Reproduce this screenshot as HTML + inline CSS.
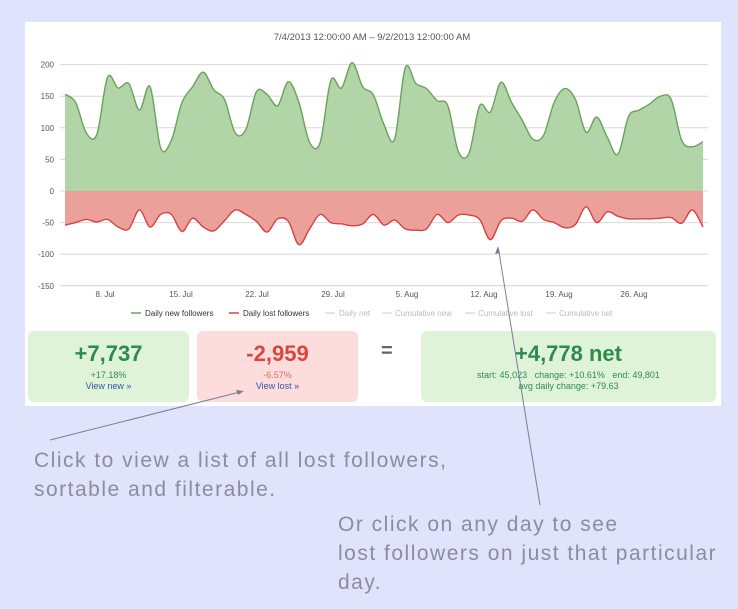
<!DOCTYPE html>
<html><head><meta charset="utf-8"><style>
body{margin:0;width:738px;height:609px;background:#dfe3fb;font-family:"Liberation Sans",sans-serif;position:relative;overflow:hidden}
.panel{position:absolute;left:25px;top:22px;width:696px;height:384px;background:#fff}
.box{position:absolute;top:331px;height:71px;border-radius:6px;text-align:center}
.big{font-size:22px;font-weight:bold;margin-top:10px;line-height:26px}
.sm{font-size:9px;line-height:11px}
.note{position:absolute;color:#8c8c9c;font-size:21px;line-height:29px;letter-spacing:1.5px;white-space:nowrap}
</style></head><body>
<div class="panel"></div>
<svg width="738" height="609" style="position:absolute;left:0;top:0">
<text x="372" y="40" font-size="9.5" fill="#555" text-anchor="middle" font-family="Liberation Sans">7/4/2013 12:00:00 AM – 9/2/2013 12:00:00 AM</text>
<g id="grid" stroke="#d8d8d8" stroke-width="1"></g>
<g id="ylab" font-size="8" fill="#555" text-anchor="end" font-family="Liberation Sans"></g>
<path id="gf" fill="#b1d5a6"/><path id="rf" fill="#eba09a"/>
<path id="gl" fill="none" stroke="#6aa25a" stroke-width="1.4"/><path id="rl" fill="none" stroke="#d94040" stroke-width="1.4"/>
<g font-size="8" fill="#555" text-anchor="middle" font-family="Liberation Sans">
<text x="105" y="297">8. Jul</text><text x="181" y="297">15. Jul</text><text x="257" y="297">22. Jul</text><text x="333" y="297">29. Jul</text><text x="407" y="297">5. Aug</text><text x="484" y="297">12. Aug</text><text x="559" y="297">19. Aug</text><text x="634" y="297">26. Aug</text></g>
<g font-size="8" font-family="Liberation Sans">
<line x1="131" y1="313" x2="141" y2="313" stroke="#6aa25a" stroke-width="1.5"/><text x="145" y="316" fill="#333">Daily new followers</text>
<line x1="229" y1="313" x2="239" y2="313" stroke="#d94040" stroke-width="1.5"/><text x="243" y="316" fill="#333">Daily lost followers</text>
<line x1="325" y1="313" x2="335" y2="313" stroke="#ccc"/><text x="339" y="316" fill="#bbb">Daily net</text>
<line x1="382" y1="313" x2="392" y2="313" stroke="#ccc"/><text x="395" y="316" fill="#bbb">Cumulative new</text>
<line x1="465" y1="313" x2="475" y2="313" stroke="#ccc"/><text x="478" y="316" fill="#bbb">Cumulative lost</text>
<line x1="546" y1="313" x2="556" y2="313" stroke="#ccc"/><text x="559" y="316" fill="#bbb">Cumulative net</text></g>
</svg>
<div class="box" style="left:28px;width:161px;background:#dff3d8"><div class="big" style="color:#2e8b4e">+7,737</div><div class="sm" style="color:#2e8b4e;margin-top:3px">+17.18%</div><div class="sm" style="color:#3355aa">View new »</div></div>
<div class="box" style="left:197px;width:161px;background:#fddcdc"><div class="big" style="color:#d9463e">-2,959</div><div class="sm" style="color:#d9706a;margin-top:3px">-6.57%</div><div class="sm" style="color:#3355aa">View lost »</div></div>
<div style="position:absolute;left:381px;top:340px;font-size:20px;color:#666;font-weight:bold">=</div>
<div class="box" style="left:421px;width:295px;background:#dff3d8"><div class="big" style="color:#2e8b4e">+4,778 net</div><div class="sm" style="color:#2e8b4e;margin-top:3px">start: 45,023 &nbsp; change: +10.61% &nbsp; end: 49,801</div><div class="sm" style="color:#2e8b4e">avg daily change: +79.63</div></div>
<svg width="738" height="609" style="position:absolute;left:0;top:0">
<line x1="50" y1="440" x2="240" y2="392" stroke="#7a7f95" stroke-width="1"/><path d="M244,391 l-8,-1 l2,5z" fill="#7a7f95"/>
<line x1="540" y1="505" x2="499" y2="252" stroke="#7a7f95" stroke-width="1"/><path d="M498,246 l-3,8 l5,-1z" fill="#7a7f95"/>
</svg>
<div class="note" style="left:34px;top:446px">Click to view a list of all lost followers,<br>sortable and filterable.</div>
<div class="note" style="left:338px;top:510px">Or click on any day to see<br>lost followers on just that particular<br>day.</div>
<script>
var G=[153,140,92,90,180,163,170,128,165,68,80,140,165,188,160,145,92,97,157,153,135,173,140,77,77,175,163,203,165,152,105,82,195,170,162,143,135,62,60,135,125,172,140,112,82,88,140,162,145,93,117,85,58,118,128,138,150,145,80,70,78];
var R=[-54,-50,-45,-49,-45,-57,-60,-30,-57,-37,-37,-64,-43,-57,-63,-47,-30,-37,-48,-65,-44,-48,-85,-60,-37,-50,-52,-55,-52,-37,-54,-46,-60,-62,-60,-37,-50,-38,-38,-45,-77,-47,-43,-48,-30,-45,-50,-58,-53,-25,-50,-33,-40,-44,-44,-44,-43,-42,-51,-30,-57];
function X(i){return 65+i*638/60}function Y(v){return 191-v*0.632}
function path(a){var p=a.map(function(v,i){return[X(i),Y(v)]});var d="M"+p[0][0]+","+p[0][1];
for(var i=0;i<p.length-1;i++){var p0=p[i-1]||p[i],p1=p[i],p2=p[i+1],p3=p[i+2]||p2;
d+=" C"+(p1[0]+(p2[0]-p0[0])/6)+","+(p1[1]+(p2[1]-p0[1])/6)+" "+(p2[0]-(p3[0]-p1[0])/6)+","+(p2[1]-(p3[1]-p1[1])/6)+" "+p2[0]+","+p2[1];}return d}
var g=path(G),r=path(R),ns="http://www.w3.org/2000/svg";
document.getElementById("gl").setAttribute("d",g);document.getElementById("rl").setAttribute("d",r);
var tail=" L"+X(60)+",191 L65,191Z";
document.getElementById("gf").setAttribute("d",g+tail);document.getElementById("rf").setAttribute("d",r+tail);
var gr=document.getElementById("grid"),yl=document.getElementById("ylab");
for(var v=200;v>=-150;v-=50){var y=Y(v);var l=document.createElementNS(ns,"line");l.setAttribute("x1",60);l.setAttribute("x2",708);l.setAttribute("y1",y);l.setAttribute("y2",y);if(v==-150)l.setAttribute("stroke","#c8d4e8");gr.appendChild(l);
var t=document.createElementNS(ns,"text");t.setAttribute("x",54);t.setAttribute("y",y+3);t.textContent=v;yl.appendChild(t);}
</script>
</body></html>
